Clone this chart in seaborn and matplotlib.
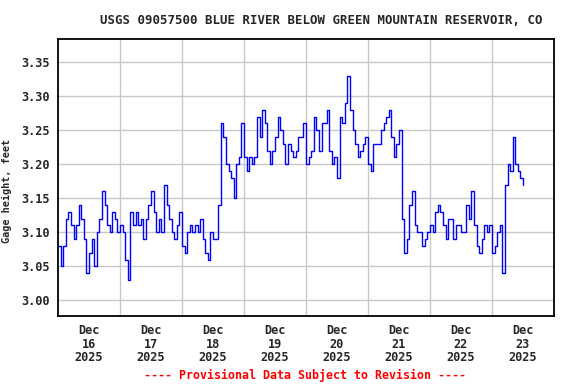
import numpy as np
import pandas as pd
import matplotlib
matplotlib.use("Agg")
import matplotlib.pyplot as plt
import matplotlib.dates as mdates
import seaborn as sns

# Hourly gage height readings (feet), starting 2025-12-16 00:00 MST
dec16 = [3.08, 3.05, 3.08, 3.12, 3.13, 3.11, 3.09, 3.11, 3.14, 3.12, 3.09, 3.04,
         3.07, 3.09, 3.05, 3.10, 3.12, 3.16, 3.14, 3.11, 3.10, 3.13, 3.12, 3.10]
dec17 = [3.11, 3.10, 3.06, 3.03, 3.13, 3.11, 3.13, 3.11, 3.12, 3.09, 3.12, 3.14,
         3.16, 3.13, 3.10, 3.12, 3.10, 3.17, 3.14, 3.12, 3.10, 3.09, 3.11, 3.13]
dec18 = [3.08, 3.07, 3.10, 3.11, 3.10, 3.11, 3.10, 3.12, 3.09, 3.07, 3.06, 3.10,
         3.09, 3.09, 3.14, 3.26, 3.24, 3.20, 3.19, 3.18, 3.15, 3.20, 3.21, 3.26]
dec19 = [3.21, 3.19, 3.21, 3.20, 3.21, 3.27, 3.24, 3.28, 3.26, 3.22, 3.20, 3.22,
         3.24, 3.27, 3.25, 3.23, 3.20, 3.23, 3.22, 3.21, 3.22, 3.24, 3.24, 3.26]
dec20 = [3.20, 3.21, 3.22, 3.27, 3.25, 3.22, 3.26, 3.26, 3.28, 3.22, 3.20, 3.21,
         3.18, 3.27, 3.26, 3.29, 3.33, 3.28, 3.25, 3.23, 3.21, 3.22, 3.23, 3.24]
dec21 = [3.20, 3.19, 3.23, 3.23, 3.23, 3.25, 3.26, 3.27, 3.28, 3.24, 3.21, 3.23,
         3.25, 3.12, 3.07, 3.09, 3.14, 3.16, 3.11, 3.10, 3.10, 3.08, 3.09, 3.10]
dec22 = [3.11, 3.10, 3.13, 3.14, 3.13, 3.11, 3.09, 3.12, 3.12, 3.09, 3.11, 3.11,
         3.10, 3.10, 3.14, 3.12, 3.16, 3.11, 3.08, 3.07, 3.09, 3.11, 3.10, 3.11]
dec23 = [3.07, 3.08, 3.10, 3.11, 3.04, 3.17, 3.20, 3.19, 3.24, 3.20, 3.19, 3.18, 3.17]

gage = dec16 + dec17 + dec18 + dec19 + dec20 + dec21 + dec22 + dec23
times = pd.date_range("2025-12-16 00:00", periods=len(gage), freq="h")
df = pd.DataFrame({"time": times, "gage": gage})

y_ticks = [3.00, 3.05, 3.10, 3.15, 3.20, 3.25, 3.30, 3.35]
day_labels = ["Dec\n16\n2025", "Dec\n17\n2025", "Dec\n18\n2025", "Dec\n19\n2025",
              "Dec\n20\n2025", "Dec\n21\n2025", "Dec\n22\n2025", "Dec\n23\n2025"]

sns.set_theme(style="white")
plt.rcParams["font.family"] = ["DejaVu Sans Mono"]

fig = plt.figure(figsize=(5.76, 3.84), dpi=100)
ax = fig.add_axes([58/576, 1-316/384, (554-58)/576, (316-39)/384])

sns.lineplot(data=df, x="time", y="gage", ax=ax, color="#0000ff",
             linewidth=1.0, drawstyle="steps-post")

start = pd.Timestamp("2025-12-16")
ax.set_xlim(start, start + pd.Timedelta(days=8))
ax.set_ylim(2.977, 3.384)

noon_ticks = [start + pd.Timedelta(hours=12 + 24*i) for i in range(8)]
mid_ticks = [start + pd.Timedelta(days=i) for i in range(1, 8)]
ax.set_xticks(noon_ticks)
ax.set_xticklabels(day_labels)
ax.set_xticks(mid_ticks, minor=True)
ax.set_yticks(y_ticks)
ax.set_yticklabels([f"{v:.2f}" for v in y_ticks])

ax.grid(False)
ax.grid(True, which="minor", axis="x", color="#c8c8c8", linewidth=1.0)
ax.grid(True, which="major", axis="y", color="#c8c8c8", linewidth=1.0)
ax.set_axisbelow(True)

ax.tick_params(axis="both", which="both", length=0, labelsize=8.6, pad=6)
for lbl in ax.get_xticklabels() + ax.get_yticklabels():
    lbl.set_fontweight("bold")
    lbl.set_linespacing(1.05)

for sp in ax.spines.values():
    sp.set_color("black")
    sp.set_linewidth(1.3)

ax.set_xlabel("")
ax.set_ylabel("Gage height, feet", fontsize=7.3, fontweight="bold")
ax.yaxis.set_label_coords(-0.093, 0.45)

fig.text(321/576, 1-20/384, "USGS 09057500 BLUE RIVER BELOW GREEN MOUNTAIN RESERVOIR, CO",
         ha="center", va="center", fontsize=8.9, fontweight="bold")
fig.text(305.5/576, 1-375/384, "---- Provisional Data Subject to Revision ----",
         ha="center", va="center", fontsize=8.4, fontweight="bold", color="red")

fig.savefig("out.png", dpi=100)
